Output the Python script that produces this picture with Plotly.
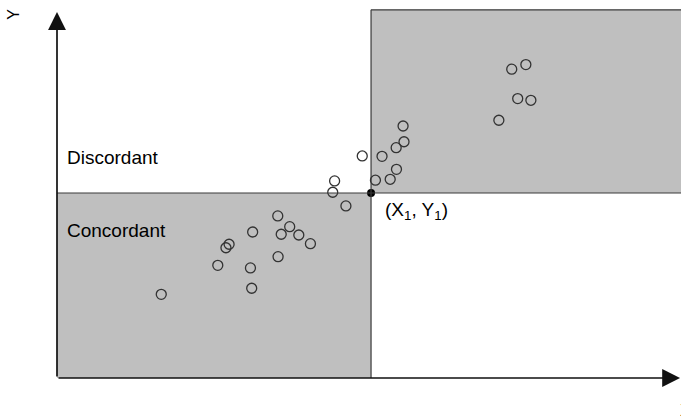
import plotly.graph_objects as go

# reference point (X1, Y1)
x1, y1 = 10.0, 10.0

# observed pairs
xs = [3.32, 5.12, 5.38, 5.48, 6.16, 6.20, 6.23, 7.03, 7.04, 7.14, 7.41, 7.70, 8.07,
      9.20, 8.78, 8.84, 9.72,
      10.14, 10.61, 10.81, 10.35, 10.80, 11.05, 11.02, 14.07, 14.67, 15.09, 14.48, 14.93]
ys = [4.52, 6.09, 7.04, 7.23, 5.95, 4.85, 7.89, 8.76, 6.56, 7.77, 8.18, 7.73, 7.26,
      9.30, 10.04, 10.65, 12.00,
      10.69, 10.74, 11.28, 11.98, 12.45, 12.77, 13.62, 13.93, 15.10, 15.01, 16.69, 16.94]

x_min, x_max = -1.815, 19.87
y_min, y_max = -2.27, 20.43
x_end, y_end = 19.84, 19.78
top = 19.9

fig = go.Figure()

shade = "#bfbfbf"
edge = "#3a3a3a"
# shaded quadrants
fig.add_shape(type="rect", x0=0, y0=0, x1=x1, y1=y1, fillcolor=shade,
              line=dict(width=0), layer="below")
fig.add_shape(type="rect", x0=x1, y0=y1, x1=x_max + 1, y1=top, fillcolor=shade,
              line=dict(width=0), layer="below")
# quadrant borders
edge_line = dict(color=edge, width=1.2)
fig.add_shape(type="line", x0=0, y0=y1, x1=x_max + 1, y1=y1, line=edge_line)
fig.add_shape(type="line", x0=x1, y0=0, x1=x1, y1=top, line=edge_line)
fig.add_shape(type="line", x0=x1, y0=top, x1=x_max + 1, y1=top, line=edge_line)

fig.add_trace(go.Scatter(
    x=xs, y=ys, mode="markers",
    marker=dict(symbol="circle-open", size=10, color="#333333", line=dict(width=1.3)),
    showlegend=False, hoverinfo="skip",
))
fig.add_trace(go.Scatter(
    x=[x1], y=[y1], mode="markers",
    marker=dict(symbol="circle", size=8, color="black"),
    showlegend=False, hoverinfo="skip",
))

# axes with arrow heads
for ex, ey in [(0, y_end), (x_end, 0)]:
    fig.add_annotation(x=ex, y=ey, ax=0, ay=0, xref="x", yref="y", axref="x", ayref="y",
                       showarrow=True, arrowhead=2, arrowsize=2.1, arrowwidth=1.7,
                       arrowcolor="#111111", text="")

font = dict(family="Liberation Sans, Arial, sans-serif", size=19, color="black")
fig.add_annotation(x=0.26, y=11.92, text="Discordant", showarrow=False,
                   xanchor="left", yanchor="middle", font=font)
fig.add_annotation(x=0.26, y=7.97, text="Concordant", showarrow=False,
                   xanchor="left", yanchor="middle", font=font)
fig.add_annotation(x=x1 + 0.38, y=y1 - 0.95, text="(X<sub>1</sub>, Y<sub>1</sub>)",
                   showarrow=False, xanchor="left", yanchor="middle", font=font)
fig.add_annotation(x=-1.37, y=19.68, text="Y", showarrow=False, textangle=-90,
                   font=dict(family="Liberation Sans, Arial, sans-serif", size=16, color="black"))
fig.add_annotation(x=19.78, y=-1.73, text="X", showarrow=False, xanchor="left",
                   font=dict(family="Liberation Sans, Arial, sans-serif", size=16, color="black"))

fig.update_layout(
    width=681, height=420,
    margin=dict(l=0, r=0, t=0, b=0),
    paper_bgcolor="white", plot_bgcolor="white",
    xaxis=dict(range=[x_min, x_max], visible=False, fixedrange=True),
    yaxis=dict(range=[y_min, y_max], visible=False, fixedrange=True),
)

fig.write_html("out.html", config={"displayModeBar": False},
               post_script="document.body.style.margin='0';document.body.style.overflow='hidden';")
